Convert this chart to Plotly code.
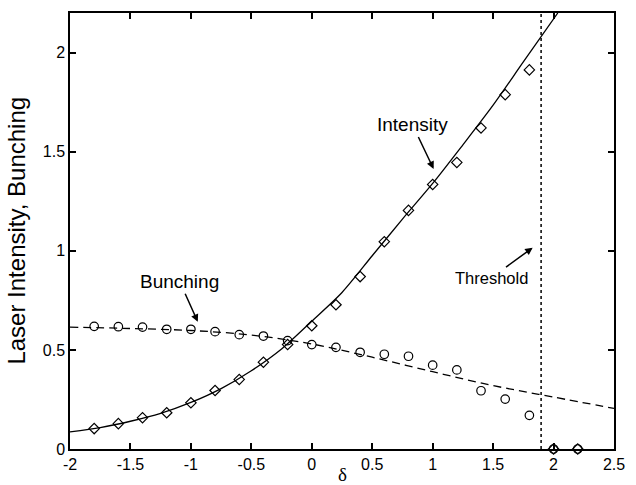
import plotly.graph_objects as go

# measured points (delta steps of 0.2)
delta_pts = [-1.8, -1.6, -1.4, -1.2, -1.0, -0.8, -0.6, -0.4, -0.2, 0.0,
             0.2, 0.4, 0.6, 0.8, 1.0, 1.2, 1.4, 1.6, 1.8, 2.0, 2.2]
intensity_pts = [0.103, 0.128, 0.158, 0.183, 0.233, 0.295, 0.351, 0.438, 0.527, 0.622,
                 0.728, 0.870, 1.046, 1.204, 1.335, 1.446, 1.620, 1.788, 1.913, 0.0, 0.0]
bunching_pts = [0.619, 0.617, 0.615, 0.604, 0.604, 0.592, 0.577, 0.570, 0.547, 0.527,
                0.513, 0.488, 0.478, 0.468, 0.423, 0.399, 0.294, 0.252, 0.170, 0.0, 0.0]

# theory curves
delta_int = [-2.0, -1.75, -1.5, -1.25, -1.0, -0.75, -0.5, -0.25, 0.0, 0.25,
             0.5, 0.75, 1.0, 1.25, 1.5, 1.75, 2.035]
intensity_th = [0.086, 0.108, 0.14, 0.18, 0.235, 0.305, 0.395, 0.505, 0.645, 0.79,
                0.975, 1.16, 1.34, 1.535, 1.735, 1.953, 2.2]
delta_bun = [-2.0, -1.5, -1.0, -0.5, 0.0, 0.5, 1.0, 1.5, 2.0, 2.5]
bunching_th = [0.615, 0.608, 0.598, 0.575, 0.53, 0.463, 0.39, 0.32, 0.262, 0.205]

threshold = 1.897

xticks = [-2, -1.5, -1, -0.5, 0, 0.5, 1, 1.5, 2, 2.5]
xlabels = ["-2", "-1.5", "-1", "-0.5", "0", "0.5", "1", "1.5", "2", "2.5"]
yticks = [0, 0.5, 1, 1.5, 2]
ylabels = ["0", "0.5", "1", "1.5", "2"]

font = "Liberation Sans, Arial, sans-serif"

fig = go.Figure()
fig.add_trace(go.Scatter(x=delta_int, y=intensity_th, mode="lines",
                         line=dict(color="black", width=1.3, shape="spline", smoothing=0.8)))
fig.add_trace(go.Scatter(x=delta_bun, y=bunching_th, mode="lines",
                         line=dict(color="black", width=1.3, dash="8px,5px", shape="spline")))
fig.add_trace(go.Scatter(x=delta_pts, y=bunching_pts, mode="markers", cliponaxis=False,
                         marker=dict(symbol="circle-open", size=8.5, color="black",
                                     line=dict(width=1.2))))
fig.add_trace(go.Scatter(x=delta_pts, y=intensity_pts, mode="markers", cliponaxis=False,
                         marker=dict(symbol="diamond-open", size=8, color="black",
                                     line=dict(width=1.2))))

fig.add_shape(type="line", x0=threshold, x1=threshold, y0=0, y1=1, yref="paper",
              line=dict(color="black", width=1.5, dash="dot"))

arrow = dict(showarrow=True, arrowhead=2, arrowsize=1, arrowwidth=1.5, arrowcolor="black")
fig.add_annotation(x=1.008, y=1.413, ax=-21, ay=-44, text="Intensity",
                   font=dict(family=font, size=19, color="black"), **arrow)
fig.add_annotation(x=-0.943, y=0.642, ax=-18, ay=-40, text="Bunching",
                   font=dict(family=font, size=19, color="black"), **arrow)
fig.add_annotation(x=1.827, y=1.016, ax=-41, ay=30, text="Threshold",
                   font=dict(family=font, size=16.5, color="black"), **arrow)

fig.add_annotation(x=-0.1, y=0.5, xref="paper", yref="paper", text="Laser Intensity, Bunching",
                   textangle=-90, showarrow=False, xanchor="center", yanchor="middle",
                   font=dict(family=font, size=24, color="black"))
fig.add_annotation(x=0.501, y=-0.03, xref="paper", yref="paper", text="δ",
                   showarrow=False, xanchor="center", yanchor="top",
                   font=dict(family="Liberation Serif, serif", size=19, color="black"))

axis = dict(showline=True, linecolor="black", linewidth=1.5, mirror="ticks",
            ticks="inside", ticklen=6, tickwidth=1.5, tickcolor="black",
            showgrid=False, zeroline=False,
            tickfont=dict(family=font, size=16, color="black"))

fig.update_xaxes(range=[-2, 2.5], tickvals=xticks, ticktext=xlabels, **axis)
fig.update_yaxes(range=[0, 2.2], tickvals=yticks, ticktext=ylabels, **axis)

fig.update_layout(width=636, height=485, showlegend=False,
                  margin=dict(l=70, r=11, t=12, b=36),
                  plot_bgcolor="white", paper_bgcolor="white")

fig.write_html("out.html", config={"displayModeBar": False},
               post_script="document.body.style.margin='0px';")
